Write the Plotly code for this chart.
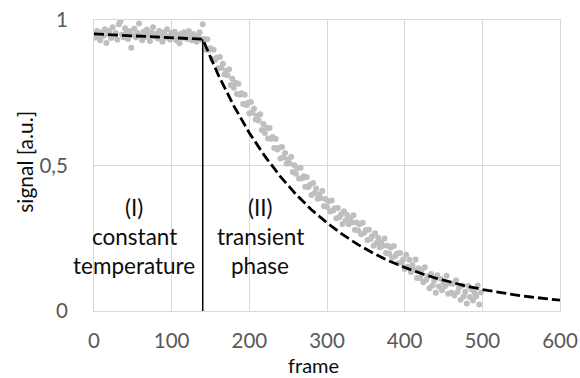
import plotly.graph_objects as go

# ---- data ----
frame_flat = list(range(0, 142, 2))
signal_flat = [
    0.955, 0.940, 0.962, 0.948, 0.930, 0.958, 0.945, 0.968, 0.921, 0.952,
    0.963, 0.938, 0.975, 0.947, 0.955, 0.932, 0.985, 0.996, 0.950, 0.941,
    0.972, 0.958, 0.935, 0.962, 0.905, 0.948, 0.970, 0.940, 0.955, 0.988,
    0.946, 0.930, 0.960, 0.942, 0.967, 0.950, 0.928, 0.957, 0.975, 0.944,
    0.952, 0.936, 0.962, 0.947, 0.925, 0.958, 0.940, 0.968, 0.945, 0.933,
    0.955, 0.942, 0.960, 0.930, 0.948, 0.920, 0.953, 0.939, 0.958, 0.944,
    0.935, 0.962, 0.947, 0.930, 0.952, 0.940, 0.925, 0.945, 0.958, 0.932,
    0.985,
]
frame_trans = list(range(142, 500, 2))
signal_trans = [
    0.935, 0.898, 0.934, 0.897, 0.903, 0.866, 0.898, 0.863, 0.870, 0.834,
    0.873, 0.836, 0.850, 0.813, 0.826, 0.810, 0.831, 0.777, 0.798, 0.767,
    0.784, 0.746, 0.781, 0.743, 0.748, 0.711, 0.743, 0.708, 0.715, 0.679,
    0.718, 0.681, 0.695, 0.658, 0.671, 0.655, 0.676, 0.622, 0.643, 0.612,
    0.630, 0.593, 0.629, 0.592, 0.598, 0.560, 0.591, 0.555, 0.561, 0.524,
    0.564, 0.528, 0.543, 0.507, 0.521, 0.507, 0.530, 0.478, 0.501, 0.472,
    0.491, 0.455, 0.492, 0.456, 0.463, 0.427, 0.460, 0.426, 0.434, 0.399,
    0.440, 0.405, 0.421, 0.386, 0.401, 0.388, 0.412, 0.361, 0.385, 0.357,
    0.377, 0.342, 0.380, 0.345, 0.353, 0.319, 0.354, 0.322, 0.332, 0.299,
    0.343, 0.311, 0.330, 0.298, 0.316, 0.304, 0.329, 0.279, 0.304, 0.277,
    0.298, 0.264, 0.303, 0.269, 0.278, 0.244, 0.279, 0.247, 0.257, 0.224,
    0.267, 0.234, 0.252, 0.219, 0.236, 0.224, 0.249, 0.199, 0.224, 0.197,
    0.218, 0.184, 0.223, 0.189, 0.198, 0.164, 0.199, 0.167, 0.177, 0.144,
    0.193, 0.152, 0.176, 0.134, 0.158, 0.143, 0.177, 0.113, 0.147, 0.113,
    0.142, 0.099, 0.150, 0.107, 0.120, 0.078, 0.127, 0.088, 0.104, 0.063,
    0.123, 0.084, 0.111, 0.071, 0.098, 0.085, 0.121, 0.059, 0.095, 0.063,
    0.094, 0.053, 0.106, 0.065, 0.080, 0.039, 0.088, 0.050, 0.066, 0.026,
    0.086, 0.048, 0.075, 0.036, 0.063, 0.051, 0.088, 0.022, 0.064,
]
model_frame = [0, 140, 160, 180, 200, 220, 240, 260, 280, 300, 320, 340,
               360, 380, 400, 420, 440, 460, 480, 500, 520, 540, 560, 580, 600]
model_signal = [0.952, 0.934, 0.811, 0.705, 0.612, 0.532, 0.462, 0.401, 0.348,
                0.303, 0.263, 0.228, 0.198, 0.172, 0.150, 0.130, 0.113, 0.098,
                0.085, 0.074, 0.064, 0.056, 0.049, 0.042, 0.037]
boundary_frame = [140, 140]
boundary_signal = [0, 0.934]

x_ticks = [0, 100, 200, 300, 400, 500, 600]
y_ticks = [0, 0.5, 1]
y_tick_labels = ["0", "0,5", "1"]

FONT = "Lato"
fig = go.Figure()
fig.add_trace(go.Scatter(
    x=frame_flat + frame_trans, y=signal_flat + signal_trans,
    mode="markers", marker=dict(color="#bfbfbf", size=6, line=dict(width=0)),
    showlegend=False, hoverinfo="skip"))
fig.add_trace(go.Scatter(
    x=boundary_frame, y=boundary_signal, mode="lines",
    line=dict(color="black", width=1.5), showlegend=False))
fig.add_trace(go.Scatter(
    x=model_frame, y=model_signal, mode="lines",
    line=dict(color="black", width=2.8, dash="10px,4px"),
    showlegend=False))

grid = "#d9d9d9"
fig.update_xaxes(range=[0, 600], tickvals=x_ticks, showgrid=True, gridcolor=grid,
                 gridwidth=1, zeroline=False, showline=True, linecolor=grid,
                 mirror=True, ticks="", ticklabelstandoff=11, automargin=False,
                 tickfont=dict(family=FONT, size=20.5, color="#595959"))
fig.update_yaxes(range=[0, 1], tickvals=y_ticks, ticktext=y_tick_labels,
                 showgrid=True, gridcolor=grid, gridwidth=1, zeroline=False,
                 showline=True, linecolor=grid, mirror=True, ticks="",
                 ticklabelstandoff=21, automargin=False,
                 tickfont=dict(family=FONT, size=20.5, color="#595959"))

ann_font = dict(family=FONT, size=22.5, color="#0d0d0d")
annotations = [
    dict(text="frame", x=0.472, y=-0.187, xref="paper", yref="paper",
         font=dict(family=FONT, size=20, color="#0d0d0d")),
    dict(text="signal [a.u.]", x=-0.148, y=0.513, xref="paper", yref="paper",
         textangle=-90, font=dict(family=FONT, size=21, color="#0d0d0d")),
    dict(text="(I)", x=52, y=0.355, xref="x", yref="y"),
    dict(text="constant", x=52, y=0.256, xref="x", yref="y"),
    dict(text="temperature", x=52, y=0.157, xref="x", yref="y"),
    dict(text="(II)", x=214, y=0.355, xref="x", yref="y"),
    dict(text="transient", x=214, y=0.256, xref="x", yref="y"),
    dict(text="phase", x=214, y=0.157, xref="x", yref="y"),
]
for a in annotations:
    a.setdefault("font", ann_font)
    a.update(showarrow=False, xanchor="center", yanchor="middle")

fig.update_layout(
    template="none",
    width=580, height=378,
    margin=dict(l=94, r=20, t=20, b=67, autoexpand=False),
    paper_bgcolor="white", plot_bgcolor="white",
    annotations=annotations,
)
fig.write_html(
    "out.html",
    config={"displayModeBar": False},
    post_script="document.body.style.margin='0';document.body.style.overflow='hidden';",
)
